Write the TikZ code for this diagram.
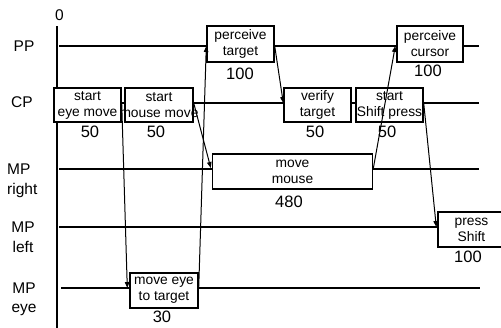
\documentclass[tikz,border=0pt]{standalone}
\usepackage{fontspec}
\setmainfont{Liberation Sans}
\usetikzlibrary{arrows.meta,calc}
\begin{document}
\begin{tikzpicture}[x=1pt,y=-1pt,
  lane/.style={line width=2pt},
  box/.style={draw, line width=1.4pt, fill=white, inner sep=0pt},
  btxt/.style={inner sep=0pt, align=center, font=\fontsize{13.8}{16}\selectfont},
  num/.style={inner sep=0pt, font=\fontsize{16.5}{18}\selectfont},
  lab/.style={inner sep=0pt, font=\fontsize{15.5}{20}\selectfont},
  arr/.style={line width=1pt, -{Triangle[length=6pt,width=4.5pt]}}]
\clip (0,0) rectangle (501,327);
% lanes
\coordinate (axT) at (57,26);
\coordinate (axB) at (57,330);
\coordinate (ppL) at (59,46);  \coordinate (ppR) at (479,46);
\coordinate (cpL) at (57,103);   \coordinate (cpR) at (479,103);
\coordinate (mrL) at (59,169);   \coordinate (mrR) at (479,169);
\coordinate (mlL) at (59,227); \coordinate (mlR) at (479,227);
\coordinate (eyeL) at (61,288); \coordinate (eyeR) at (480,288);
\draw[lane] (axT) -- (axB);
\draw[lane] (ppL) -- (ppR);
\draw[lane] (cpL) -- (cpR);
\draw[lane] (mrL) -- (mrR);
\draw[lane] (mlL) -- (mlR);
\draw[lane] (eyeL) -- (eyeR);
% row labels
\node[lab] (zero) at (59.5,14.7) {0};
\node[lab, anchor=base] (pp) at (24,51) {PP};
\node[lab, anchor=base] (cp) at (22,107.5) {CP};
\node[lab, anchor=base west] (mpr1) at (7,174.5) {MP};
\node[lab, anchor=base west] (mpr2) at (7,194) {right};
\node[lab, anchor=base] (mpl1) at (23,232.5) {MP};
\node[lab, anchor=base] (mpl2) at (23,252.5) {left};
\node[lab, anchor=base] (mpe1) at (24,293) {MP};
\node[lab, anchor=base] (mpe2) at (24,312.5) {eye};
% boxes
\node[box, minimum width=67pt, minimum height=34pt] (b1) at (87.5,105) {};
\node[btxt] (b1t) at (b1) {start\\eye move};
\node[num] (n1) at (90,131.5) {50};
\node[box, minimum width=68pt, minimum height=34pt] (b2) at (159,105) {};
\node[btxt] (b2t) at (b2) {start\\mouse move};
\node[num] (n2) at (156,131.5) {50};
\node[box, minimum width=67pt, minimum height=36pt] (pt) at (240.5,44) {};
\node[btxt] (ptt) at (pt) {perceive\\target};
\node[num] (n3) at (240,74) {100};
\node[box, minimum width=67pt, minimum height=34pt] (vt) at (317.5,105) {};
\node[btxt] (vtt) at (vt) {verify\\target};
\node[num] (n4) at (315,131.5) {50};
\node[box, minimum width=67pt, minimum height=34pt] (sp) at (389.5,105) {};
\node[btxt] (spt) at (sp) {start\\Shift press};
\node[num] (n5) at (387,131.5) {50};
\node[box, minimum width=66pt, minimum height=36pt] (pc) at (430,44) {};
\node[btxt] (pct) at (pc) {perceive\\cursor};
\node[num] (n6) at (428,71) {100};
\node[box, minimum width=160pt, minimum height=35pt] (mm) at (292.5,171.5) {};
\node[btxt] (mmt) at (mm) {move\\mouse};
\node[num] (n7) at (289,202) {480};
\node[box, minimum width=67pt, minimum height=35pt] (ps) at (471.5,229.5) {};
\node[btxt] (pst) at (ps) {press\\Shift};
\node[num] (n8) at (468,257) {100};
\node[box, minimum width=68pt, minimum height=35pt] (me) at (164,290.5) {};
\node[btxt] (met) at (me) {move eye\\to target};
\node[num] (n9) at (162,317) {30};
% arrows
\draw[arr] (b1.east |- cpL) -- ($(me.west |- eyeL)+(-2,0)$);
\draw[arr] (me.east |- eyeL) -- (pt.west |- ppL);
\draw[arr] (b2.east |- cpL) -- ($(mm.west |- mrL)+(-1,-1)$);
\draw[arr] (pt.east |- ppL) -- (vt.west |- cpL);
\draw[arr] (mm.east |- mrL) -- ($(pc.west |- ppL)+(-1,0)$);
\draw[arr] (sp.east |- cpL) -- ($(ps.west |- mlL)+(-1,0)$);
\end{tikzpicture}
\end{document}
